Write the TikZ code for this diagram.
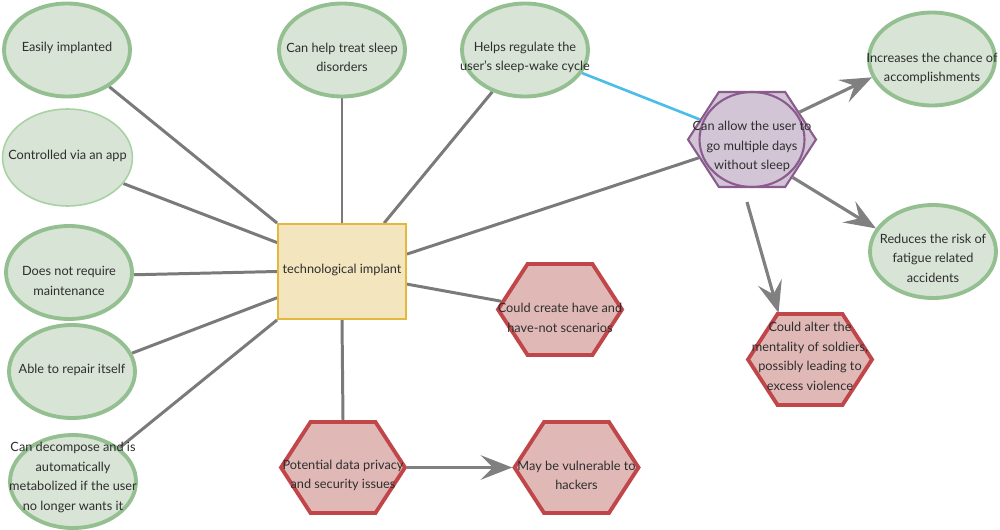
\documentclass[tikz,border=0pt]{standalone}
\usepackage{fontspec}
\setmainfont{Lato}
\usetikzlibrary{shapes.geometric,shapes.symbols,arrows.meta,calc,backgrounds}

\definecolor{gfill}{HTML}{D8E4D5}
\definecolor{gbord}{HTML}{93BF91}
\definecolor{gbordlight}{HTML}{A8D2A4}
\definecolor{yfill}{HTML}{F3E6BF}
\definecolor{ybord}{HTML}{E4B83D}
\definecolor{rfill}{HTML}{E0B9B7}
\definecolor{rbord}{HTML}{C1464A}
\definecolor{pfill}{HTML}{D2C5D6}
\definecolor{pbord}{HTML}{8A5C8D}
\definecolor{linkgray}{HTML}{7A7A7A}
\definecolor{arrowgray}{HTML}{808080}
\definecolor{linkblue}{HTML}{4BBDE8}
\definecolor{txtcol}{HTML}{2E2E2E}

\begin{document}
\begin{tikzpicture}[x=0.02cm,y=-0.02cm,
  greenell/.style={ellipse, draw=gbord, fill=gfill, line width=2.2pt,
    minimum width=2.52cm, minimum height=1.86cm, inner sep=0pt},
  thinell/.style={greenell, draw=gbordlight, line width=0.9pt,
    minimum width=2.6cm, minimum height=1.94cm},
  redhex/.style={signal, signal to=east and west, signal pointer angle=114,
    draw=rbord, fill=rfill, line width=2.2pt,
    minimum width=2.48cm, minimum height=1.82cm, inner sep=0pt},
  purplehex/.style={redhex, draw=pbord, fill=pfill, line width=1.2pt,
    minimum width=2.56cm, minimum height=1.9cm},
  implantbox/.style={rectangle, draw=ybord, fill=yfill, line width=1.1pt,
    minimum width=2.56cm, minimum height=1.9cm, inner sep=0pt},
  txt/.style={align=center, inner sep=0pt, text=txtcol,
    font=\fontsize{7.25}{11.1}\selectfont},
  link/.style={draw=linkgray, line width=1.7pt},
  bluelink/.style={draw=linkblue, line width=1.5pt},
  arr/.style={draw=arrowgray, line width=1.8pt,
    -{Stealth[length=18pt,width=14pt,inset=7pt]}}
]
\useasboundingbox (0,0) rectangle (1000,530);

% benefit ellipses
\node[greenell] (easy)   at (67,50)    {};
\node[thinell]  (ctrl)   at (67.5,157.5) {};
\node[greenell] (maint)  at (69,272.5) {};
\node[greenell] (repair) at (72,371.5) {};
\node[greenell] (decomp) at (73,481.5) {};
\node[greenell] (sleep)  at (342,50)   {};
\node[greenell] (reg)    at (525,50)   {};
\node[greenell] (incr)   at (932,59)   {};
\node[greenell] (reduce) at (933,251.5) {};

% central topic
\node[implantbox] (implant) at (342,271.5) {};

% risk hexagons
\node[redhex] (havenot) at (560,309.5) {};
\node[redhex] (privacy) at (343,467.5) {};
\node[redhex] (vuln)    at (576.5,467.5) {};
\node[redhex] (alter)   at (810,359.5) {};

% sleepless hexagon with its inner ring
\node[purplehex] (nosleep) at (752,139.5) {};
\node[ellipse, draw=pbord, line width=1.2pt, minimum width=2.1cm,
  minimum height=1.9cm, inner sep=0pt] (nosleepring) at (nosleep) {};

\coordinate (alterstart) at ($(nosleep.south)+(-5,14)$);

% connectors
\begin{scope}[on background layer]
\draw[link] (easy.-41.5) -- (implant.north west);
\draw[link] (ctrl.-25) -- (implant.156.3);
\draw[link] (maint.-2) -- (implant.west);
\draw[link] (repair.17.6) -- (implant.202.2);
\draw[link] (decomp.36.9) -- (implant.south west);
\draw[link] (sleep.south) -- (implant.north);
\draw[link] (reg.232.5) -- (implant.49.1);
\draw[link] (implant.15.7) -- (nosleep.199.4);
\draw[link] (implant.-11.7) -- (havenot.172.4);
\draw[link] (implant.south) -- (privacy.north);
\draw[bluelink] (reg.-22) -- (nosleep.159.7);
\end{scope}
\draw[arr] (privacy.east) -- (vuln.west);
\draw[arr] (nosleep.30.3) -- (incr.197.6);
\draw[arr] (nosleep.-43.5) -- (reduce.158.2);
\draw[arr] (alterstart) -- (alter.124);

% labels
\node[txt] (easy-t)    at ($(easy)+(0,-2)$)      {Easily implanted};
\node[txt] (ctrl-t)    at ($(ctrl)+(0,-1.5)$)    {Controlled via an app};
\node[txt] (maint-t)   at ($(maint)+(0,8.5)$)    {Does not require\\maintenance};
\node[txt] (repair-t)  at ($(repair)+(0,-2)$)    {Able to repair itself};
\node[txt] (decomp-t)  at ($(decomp)+(0,-4)$)    {Can decompose and is\\automatically\\metabolized if the user\\no longer wants it};
\node[txt] (sleep-t)   at ($(sleep)+(0,7.5)$)    {Can help treat sleep\\disorders};
\node[txt] (reg-t)     at ($(reg)+(0,7.5)$)      {Helps regulate the\\user's sleep-wake cycle};
\node[txt] (incr-t)    at ($(incr)+(0,9.5)$)     {Increases the chance of\\accomplishments};
\node[txt] (reduce-t)  at ($(reduce)+(0,6.5)$)   {Reduces the risk of\\fatigue related\\accidents};
\node[txt] (implant-t) at ($(implant)+(0,-1.5)$) {technological implant};
\node[txt] (havenot-t) at ($(havenot)+(0,8.5)$)  {Could create have and\\have-not scenarios};
\node[txt] (privacy-t) at ($(privacy)+(0,8)$)    {Potential data privacy\\and security issues};
\node[txt] (vuln-t)    at ($(vuln)+(0,8)$)       {May be vulnerable to\\hackers};
\node[txt] (alter-t)   at ($(alter)+(0,-3)$)     {Could alter the\\mentality of soldiers,\\possibly leading to\\excess violence};
\node[txt] (nosleep-t) at ($(nosleep)+(0,7)$)    {Can allow the user to\\go multiple days\\without sleep};
\end{tikzpicture}
\end{document}
